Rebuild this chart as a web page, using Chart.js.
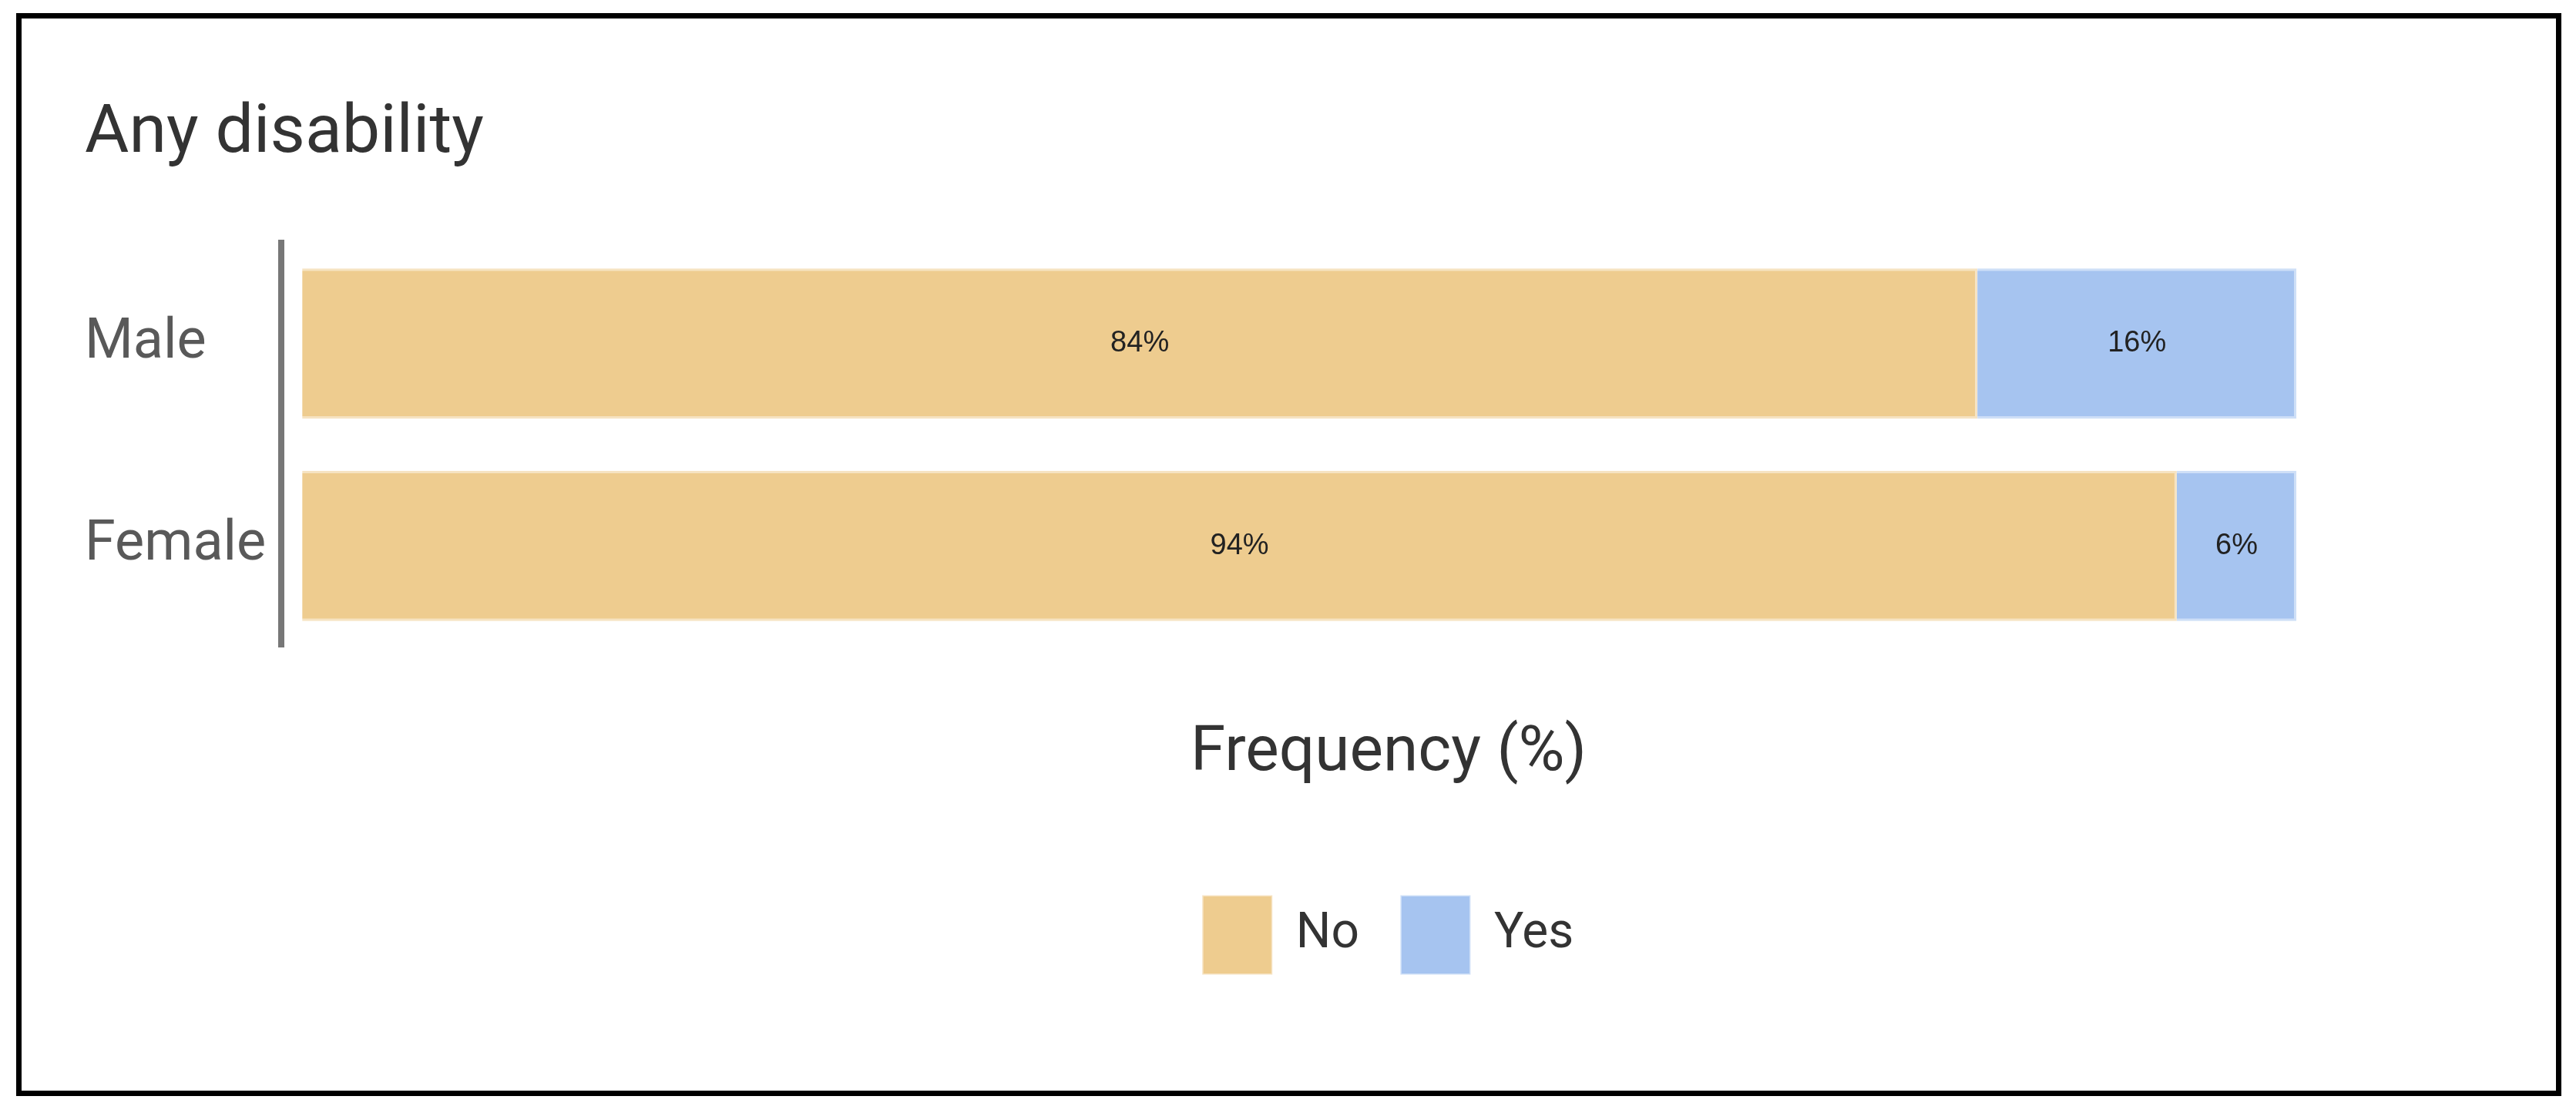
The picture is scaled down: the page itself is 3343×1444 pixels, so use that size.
<!DOCTYPE html>
<html>
<head>
<meta charset="utf-8">
<script src="https://cdn.jsdelivr.net/npm/chart.js@4.4.0/dist/chart.umd.min.js"></script>
<style>
  html, body { margin: 0; padding: 0; background: #fff; }
  #wrap { position: relative; width: 3343px; height: 1444px; }
  #frame {
    position: absolute; left: 21px; top: 17px;
    width: 3289px; height: 1391px;
    border: 7px solid #000;
  }
  canvas { position: absolute; left: 0; top: 0; }
</style>
</head>
<body>
<div id="wrap">
  <div id="frame"></div>
  <canvas id="chart" width="3343" height="1444"></canvas>
</div>
<script>
// data
const categories = ['Male', 'Female'];
const seriesNames = ['No', 'Yes'];
const noValues = [84, 94];
const yesValues = [16, 6];
const colors = ['#EECC8F', '#A6C4F0'];
const edgeColors = ['rgba(238, 204, 143, 0.55)', 'rgba(166, 196, 240, 0.55)'];

const FONT = 'Roboto, "Liberation Sans", sans-serif';

// draw the % labels in the middle of each segment
const segmentLabels = {
    id: 'segmentLabels',
    afterDatasetsDraw(chart) {
        const ctx = chart.ctx;
        ctx.save();
        ctx.font = '38px "Liberation Sans", Arial, sans-serif';
        ctx.fillStyle = '#222';
        ctx.textAlign = 'center';
        ctx.textBaseline = 'middle';
        chart.data.datasets.forEach((ds, i) => {
            const meta = chart.getDatasetMeta(i);
            meta.data.forEach((bar, j) => {
                const p = bar.getCenterPoint();
                ctx.fillText(ds.data[j] + '%', p.x, p.y);
            });
        });
        ctx.restore();
    }
};

const ctx = document.getElementById('chart').getContext('2d');

new Chart(ctx, {
    type: 'bar',
    data: {
        labels: categories,
        datasets: [
            {
                label: seriesNames[0],
                data: noValues,
                backgroundColor: colors[0],
                borderColor: edgeColors[0],
                borderWidth: 3,
                borderSkipped: 'start',
                barPercentage: 0.743,
                categoryPercentage: 1
            },
            {
                label: seriesNames[1],
                data: yesValues,
                backgroundColor: colors[1],
                borderColor: edgeColors[1],
                borderWidth: 3,
                borderSkipped: 'start',
                barPercentage: 0.743,
                categoryPercentage: 1
            }
        ]
    },
    options: {
        indexAxis: 'y',
        responsive: false,
        animation: false,
        layout: {
            padding: { left: 110, right: 104, top: 0, bottom: 171 }
        },
        plugins: {
            title: {
                display: true,
                text: 'Any disability',
                align: 'start',
                color: '#333',
                font: { family: FONT, size: 88, weight: 'normal' },
                padding: { top: 122, bottom: 87 }
            },
            legend: {
                position: 'bottom',
                fullSize: false,
                labels: {
                    boxWidth: 88,
                    boxHeight: 100,
                    padding: 55,
                    color: '#333',
                    font: { family: FONT, size: 64 }
                }
            },
            tooltip: { enabled: false }
        },
        scales: {
            x: {
                stacked: true,
                min: -1.05,
                max: 110,
                grid: { display: false, drawTicks: false },
                border: { display: false },
                ticks: { display: false },
                title: {
                    display: true,
                    text: 'Frequency (%)',
                    color: '#333',
                    font: { family: FONT, size: 82 },
                    padding: { top: 90, bottom: 80 }
                }
            },
            y: {
                stacked: true,
                grid: { display: false, drawTicks: false },
                border: { display: true, color: '#777', width: 8 },
                ticks: {
                    crossAlign: 'far',
                    padding: 20,
                    color: '#595959',
                    font: { family: FONT, size: 72 }
                },
                afterFit(scale) {
                    scale.width = 255;
                }
            }
        }
    },
    plugins: [segmentLabels]
});
</script>
</body>
</html>
